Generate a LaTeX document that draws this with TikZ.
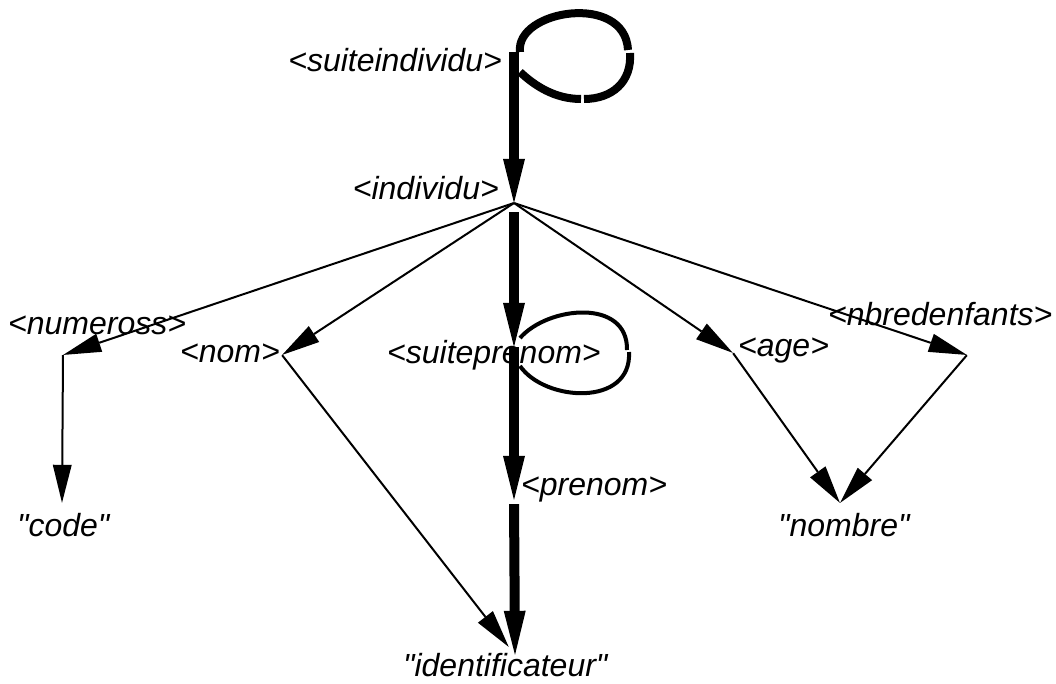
\documentclass[tikz,border=0pt]{standalone}
\usepackage{fontspec}
\setmainfont{Liberation Sans}[Ligatures=TeXOff]
\usetikzlibrary{arrows.meta}
\tikzset{
	pt/.style={inner sep=0pt, minimum size=0pt},
	lbl/.style={inner sep=0pt, font=\itshape\fontsize{32}{38}\selectfont},
	arc/.style={line width=2pt, -{Triangle[length=38pt,width=19pt,line width=0pt]}},
	seq/.style={line width=10pt, -{Triangle[length=44pt,width=22pt,line width=0pt]}},
	boucle/.style={line width=8pt},
	petiteboucle/.style={line width=4pt}
}
\begin{document}
\begin{tikzpicture}[x=1pt,y=-1pt]
	\useasboundingbox (0,0) rectangle (1056,684);
	\node [pt] (si) at (514,52) {};
	\node [pt] (ind) at (514,203) {};
	\node [pt] (num) at (63,355) {};
	\node [pt] (nom) at (282,355) {};
	\node [pt] (sp) at (514,347) {};
	\node [pt] (age) at (733,353) {};
	\node [pt] (nbe) at (967,355) {};
	\node [pt] (pre) at (514,500) {};
	\node [pt] (code) at (62,503) {};
	\node [pt] (nomb) at (840,503) {};
	\node [pt] (ident) at (515,655) {};
	\node [lbl, anchor=base east] (si-l) at (502,72) {<suiteindividu>};
	\node [lbl, anchor=base east] (ind-l) at (499,200) {<individu>};
	\node [lbl, anchor=base west] (num-l) at (8,334) {<numeross>};
	\node [lbl, anchor=base west] (nom-l) at (180,362) {<nom>};
	\node [lbl, anchor=base west] (sp-l) at (387,363) {<suiteprenom>};
	\node [lbl, anchor=base west] (pre-l) at (521,495) {<prenom>};
	\node [lbl, anchor=base west] (age-l) at (738,356) {<age>};
	\node [lbl, anchor=base west] (nbe-l) at (828,325) {<nbredenfants>};
	\node [lbl, anchor=base west] (code-l) at (17,536) {"code"};
	\node [lbl, anchor=base west] (nomb-l) at (778,536) {"nombre"};
	\node [lbl, anchor=base west] (ident-l) at (403,676) {"identificateur"};
	\draw [seq] (si) -- (ind);
	\draw [seq, shorten <=9pt] (ind) -- (sp);
	\draw [seq] (sp) -- (pre);
	\draw [seq, shorten <=4pt] (pre) -- (ident);
	\draw [arc] (ind) -- (num);
	\draw [arc] (ind) -- (nom);
	\draw [arc] (ind) -- (age);
	\draw [arc] (ind) -- (nbe);
	\draw [arc] (num) -- (code);
	\draw [arc, shorten >=10pt] (nom) -- (ident);
	\draw [arc] (age) -- (nomb);
	\draw [arc] (nbe) -- (nomb);
	\draw [boucle] (520,52) .. controls (515,10) and (625,-8) .. (628,50);
	\draw [boucle] (630,53) .. controls (632,82) and (612,99) .. (584,99);
	\draw [boucle] (581,99) .. controls (555,99) and (535,86) .. (520,72);
	\draw [petiteboucle] (520,338) .. controls (548,306) and (628,298) .. (627,350);
	\draw [petiteboucle] (629,352) .. controls (632,407) and (545,402) .. (520,366);
\end{tikzpicture}
\end{document}
